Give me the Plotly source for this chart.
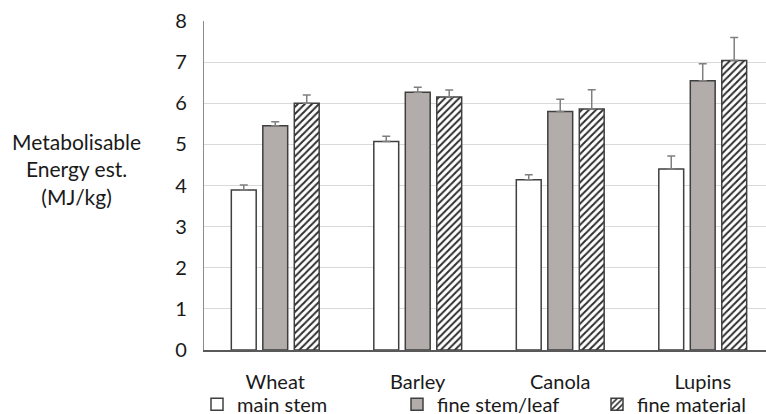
import plotly.graph_objects as go

categories = ["Wheat", "Barley", "Canola", "Lupins"]
series_names = ["main stem", "fine stem/leaf", "fine material"]
main_stem = [3.89, 5.07, 4.14, 4.40]
main_stem_err = [0.12, 0.13, 0.12, 0.32]
fine_stem = [5.45, 6.27, 5.80, 6.55]
fine_stem_err = [0.10, 0.12, 0.30, 0.41]
fine_material = [6.00, 6.15, 5.86, 7.04]
fine_material_err = [0.20, 0.17, 0.47, 0.56]
y_ticks = [0, 1, 2, 3, 4, 5, 6, 7, 8]

edge = "#3f3f3f"
err_color = "#7f7f7f"
font_color = "#1a1a1a"
FS = 20

fig = go.Figure()
styles = [
    dict(color="white", pattern=None),
    dict(color="#b2adab", pattern=None),
    dict(color="white", pattern=dict(shape="/", fgcolor="#2e2e2e", fgopacity=1, bgcolor="white", size=5, solidity=0.4)),
]
vals = [main_stem, fine_stem, fine_material]
errs = [main_stem_err, fine_stem_err, fine_material_err]
for name, v, e, s in zip(series_names, vals, errs, styles):
    marker = dict(color=s["color"], line=dict(color=edge, width=1.5))
    if s["pattern"]:
        marker["pattern"] = s["pattern"]
    fig.add_trace(go.Bar(
        x=categories, y=v, name=name, marker=marker,
        error_y=dict(type="data", symmetric=False, array=e, arrayminus=[0]*len(e),
                     color=err_color, thickness=1.5, width=4),
    ))

fig.update_layout(
    width=766, height=414,
    margin=dict(l=204, r=0, t=21, b=64, autoexpand=False),
    paper_bgcolor="white", plot_bgcolor="white",
    barmode="group", bargap=0.337, bargroupgap=0.21,
    font=dict(family="Lato, Open Sans, sans-serif", size=FS, color=font_color),
    showlegend=True,
    legend=dict(orientation="h", x=(197-204)/562, xanchor="left", y=-0.165, yanchor="middle",
                font=dict(size=FS, color=font_color), itemwidth=30,
                entrywidth=155, entrywidthmode="pixels",
                traceorder="normal", bgcolor="rgba(0,0,0,0)"),
    xaxis=dict(range=[-0.5, 3.444], showgrid=False, showline=True, linecolor="#595959",
               linewidth=1.5, ticks="outside", ticklen=13, tickcolor="rgba(0,0,0,0)",
               tickfont=dict(size=FS, color=font_color)),
    yaxis=dict(range=[0, 8], tickvals=y_ticks, showgrid=True, gridcolor="#d9d9d9", gridwidth=1.2,
               showline=True, linecolor="#8c8c8c", linewidth=1.2, zeroline=False,
               ticks="outside", ticklen=12, tickcolor="rgba(0,0,0,0)",
               tickfont=dict(size=FS, color=font_color)),
    annotations=[dict(text="Metabolisable<br>Energy est.<br>(MJ/kg)", xref="paper", yref="paper",
                      x=(76-204)/562, y=(350-169)/329, xanchor="center", yanchor="middle",
                      showarrow=False, align="center", font=dict(size=21, color=font_color))],
)

fig.write_html("out.html", config={"displayModeBar": False},
               post_script="document.body.style.margin='0';document.body.style.overflow='hidden';")
